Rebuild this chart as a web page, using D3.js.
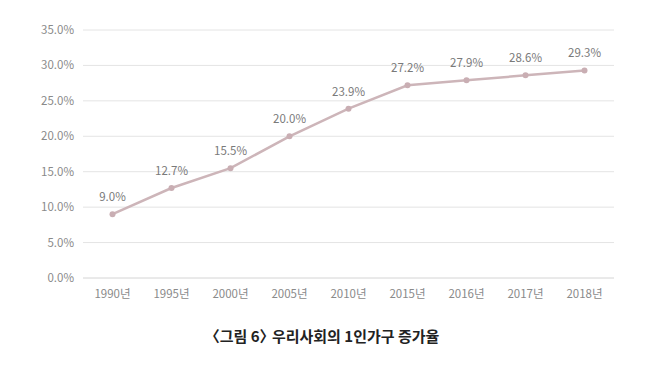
<!DOCTYPE html>
<html>
<head>
<meta charset="utf-8">
<script src="https://cdn.jsdelivr.net/npm/d3@7"></script>
<style>
  body { margin: 0; background: #fff; }
  text { font-family: "Noto Sans CJK KR", "Noto Sans", sans-serif; }
</style>
</head>
<body>
<svg id="chart"></svg>
<script>
const years = ["1990년", "1995년", "2000년", "2005년", "2010년", "2015년", "2016년", "2017년", "2018년"];
const rates = [9.0, 12.7, 15.5, 20.0, 23.9, 27.2, 27.9, 28.6, 29.3];
const yTicks = [0, 5, 10, 15, 20, 25, 30, 35];
const titleParts = ["〈그림 6〉", " 우리사회의 1인가구 증가율"];

const width = 660;
const height = 365;

const svg = d3.select("#chart")
    .attr("width", width)
    .attr("height", height);

const x = d3.scaleBand()
    .domain(years)
    .range([83, 614]);

const y = d3.scaleLinear()
    .domain([0, 35])
    .range([278, 30]);

// gridlines
svg.append("g")
    .selectAll("line")
    .data(yTicks)
    .join("line")
    .attr("x1", 83)
    .attr("x2", 614)
    .attr("y1", d => y(d))
    .attr("y2", d => y(d))
    .attr("stroke", d => d === 0 ? "#d4d4d4" : "#e4e4e4")
    .attr("stroke-width", 1);

// y labels
svg.append("g")
    .selectAll("text")
    .data(yTicks)
    .join("text")
    .attr("x", 74)
    .attr("y", d => y(d) + 4)
    .attr("text-anchor", "end")
    .attr("font-size", 11.5)
    .attr("fill", "#8a8a8a")
    .text(d => d.toFixed(1) + "%");

// x labels
svg.append("g")
    .selectAll("text")
    .data(years)
    .join("text")
    .attr("x", d => x(d) + x.bandwidth() / 2)
    .attr("y", 298)
    .attr("text-anchor", "middle")
    .attr("font-size", 11.5)
    .attr("fill", "#8a8a8a")
    .text(d => d);

const pts = years.map((d, i) => ({ year: d, value: rates[i] }));

const line = d3.line()
    .x(d => x(d.year) + x.bandwidth() / 2)
    .y(d => y(d.value));

svg.append("path")
    .datum(pts)
    .attr("d", line)
    .attr("fill", "none")
    .attr("stroke", "#cdb5b9")
    .attr("stroke-width", 2.5);

svg.append("g")
    .selectAll("circle")
    .data(pts)
    .join("circle")
    .attr("cx", d => x(d.year) + x.bandwidth() / 2)
    .attr("cy", d => y(d.value))
    .attr("r", 3)
    .attr("fill", "#c9aeb3");

// value labels
svg.append("g")
    .selectAll("text")
    .data(pts)
    .join("text")
    .attr("x", d => x(d.year) + x.bandwidth() / 2)
    .attr("y", d => y(d.value) - 13)
    .attr("text-anchor", "middle")
    .attr("font-size", 11.5)
    .attr("fill", "#7a7a7a")
    .text(d => d.value.toFixed(1) + "%");

// title: closing bracket has blank space on its right, pull the rest in
const t = svg.append("text")
    .attr("x", 322)
    .attr("y", 342)
    .attr("text-anchor", "middle")
    .attr("font-size", 15)
    .attr("font-weight", "bold")
    .attr("fill", "#222");
t.append("tspan").text(titleParts[0]);
t.append("tspan").attr("dx", -6).text(titleParts[1]);
</script>
</body>
</html>
